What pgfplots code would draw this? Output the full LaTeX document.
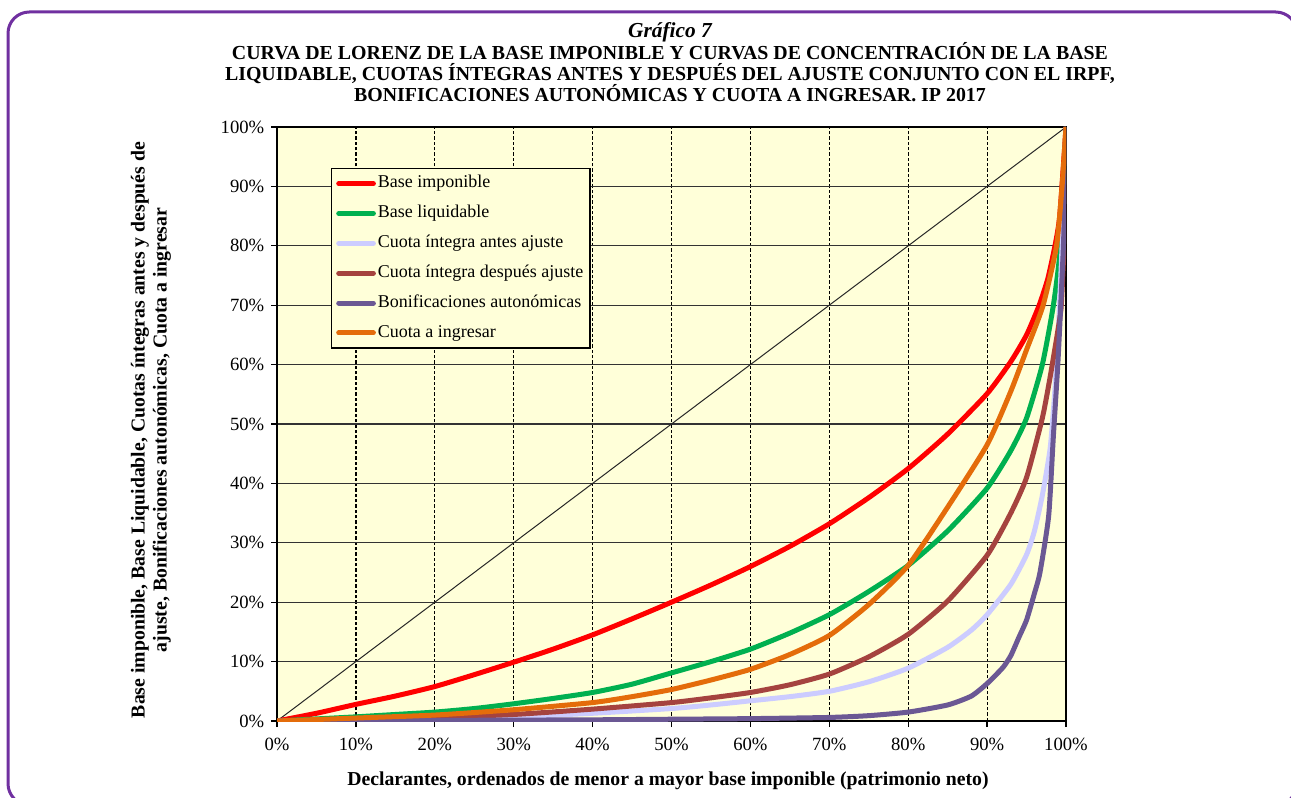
\documentclass[border=0pt]{standalone}
\usepackage{pgfplots}
\pgfplotsset{compat=1.18}
\usepackage{fontspec}
\setmainfont{Liberation Serif}

\definecolor{fondo}{HTML}{FFFFD9}
\definecolor{marco}{HTML}{7030A0}
\definecolor{cRojo}{HTML}{FF0000}
\definecolor{cVerde}{HTML}{00B050}
\definecolor{cLila}{HTML}{CCCCFF}
\definecolor{cMarron}{HTML}{A5433F}
\definecolor{cMorado}{HTML}{6B5894}
\definecolor{cNaranja}{HTML}{E46C0A}

\tikzset{curva/.style={line width=3.75pt, line join=round, smooth, tension=0.35}}

\begin{document}
\begin{tikzpicture}
% 1 px of the reference = 0.75pt
\useasboundingbox (0,0) rectangle (968.25pt,597.75pt);
\begin{scope}
  \clip (0,0) rectangle (968.25pt,597.75pt);
  \draw[marco, line width=2.25pt, rounded corners=16pt] (6pt,588.75pt) rectangle (972.75pt,-6pt);
\end{scope}

% titles (base anchor of a multi-line node = last line)
\node[anchor=base, font=\fontsize{16}{18}\selectfont\bfseries\itshape] at (502.5pt,569.25pt) {Gráfico 7};
\node[anchor=base, align=center, font=\fontsize{14.9}{15.75}\selectfont\bfseries] at (502.5pt,521.25pt)
  {CURVA DE LORENZ DE LA BASE IMPONIBLE Y CURVAS DE CONCENTRACIÓN DE LA BASE\\
   LIQUIDABLE, CUOTAS ÍNTEGRAS ANTES Y DESPUÉS DEL AJUSTE CONJUNTO CON EL IRPF,\\
   BONIFICACIONES AUTONÓMICAS Y CUOTA A INGRESAR. IP 2017};
\node[anchor=base, font=\fontsize{14.8}{16}\selectfont\bfseries] at (501pt,9pt)
  {Declarantes, ordenados de menor a mayor base imponible (patrimonio neto)};
\node[rotate=90, align=center, font=\fontsize{14.8}{16.5}\selectfont\bfseries] at (113.25pt,275.25pt)
  {Base imponible, Base Liquidable, Cuotas íntegras antes y después de\\
   ajuste, Bonificaciones autonómicas, Cuota a ingresar};

\begin{axis}[
  at={(207.75pt,57pt)}, anchor=south west,
  scale only axis, width=591.75pt, height=445.5pt,
  xmin=0, xmax=100, ymin=0, ymax=100,
  axis background/.style={fill=fondo},
  axis line style={black, line width=1.1pt},
  xtick={0,10,...,100}, ytick={0,10,...,100},
  xticklabels={0\%,10\%,20\%,30\%,40\%,50\%,60\%,70\%,80\%,90\%,100\%},
  yticklabels={0\%,10\%,20\%,30\%,40\%,50\%,60\%,70\%,80\%,90\%,100\%},
  ticklabel style={font=\fontsize{14}{16}\selectfont},
  xticklabel style={yshift=-5pt},
  yticklabel style={xshift=-1.5pt},
  tick align=outside, xtick pos=bottom, ytick pos=left,
  major tick length=4.5pt,
  tick style={black, line width=1pt},
  grid=major,
  major x grid style={black, line width=0.9pt, dash pattern=on 2.5pt off 1.5pt},
  major y grid style={black!80, line width=1pt},
  legend style={at={(0.0684,0.931)}, anchor=north west, draw=black, line width=0.9pt,
    fill=fondo, font=\fontsize{13.5}{15}\selectfont, row sep=6.9pt, inner sep=3.5pt,
    nodes={inner sep=1.5pt, text height=9.5pt, text depth=3pt}},
  legend cell align=left,
  legend image code/.code={\draw[#1, sharp plot, line cap=round] (0pt,0pt) -- (26pt,0pt);},
]
\addplot[black!85, line width=0.75pt, forget plot] coordinates {(0,0) (100,100)};

\addplot[cRojo, curva] coordinates {
 (0,0) (5,1.3) (10,2.8) (15,4.2) (20,5.8) (25,7.8) (30,9.9) (35,12.1) (40,14.5)
 (45,17.2) (50,20.0) (55,22.9) (60,26.0) (65,29.4) (70,33.2) (75,37.6) (80,42.5)
 (85,48.3) (90,55.1) (93,60.5) (95,65.0) (96.6,70) (97.7,74.5) (98.6,80) (99.2,85) (100,100)};
\addlegendentry{Base imponible}

\addplot[cVerde, curva] coordinates {
 (0,0) (5,0.35) (10,0.7) (15,1.1) (20,1.5) (25,2.1) (30,2.9) (35,3.8) (40,4.8) (45,6.2)
 (50,8.1) (55,10.0) (60,12.1) (65,14.8) (70,17.9) (75,21.8) (80,26.2) (85,32.0)
 (90,39.2) (93,45.5) (95,51.0) (97,60.0) (98.4,70) (99.3,80) (100,100)};
\addlegendentry{Base liquidable}

\addplot[cLila, curva] coordinates {
 (0,0) (10,0.1) (20,0.3) (30,0.7) (40,1.3) (50,2.1) (55,2.7) (60,3.4) (65,4.1) (70,5.0)
 (75,6.6) (80,8.9) (85,12.4) (88,15.3) (90,17.9) (93,23.0) (95,28.0) (96,32.0)
 (97,38.0) (98,46.0) (98.6,56) (99.1,68) (99.5,80) (100,100)};
\addlegendentry{Cuota íntegra antes ajuste}

\addplot[cMarron, curva] coordinates {
 (0,0) (10,0.2) (20,0.6) (30,1.1) (40,2.0) (50,3.1) (55,3.9) (60,4.8) (65,6.1) (70,7.9)
 (75,10.8) (80,14.6) (85,20.2) (90,27.9) (93,35.0) (95,41.0) (97,51.0) (98,58.0)
 (99,66.0) (99.4,70) (99.8,82) (100,100)};
\addlegendentry{Cuota íntegra después ajuste}

\addplot[cMorado, curva] coordinates {
 (0,0) (10,0.05) (20,0.1) (30,0.15) (40,0.2) (50,0.3) (60,0.4) (70,0.6) (75,0.9)
 (80,1.5) (85,2.7) (88,4.2) (90,6.3) (92,9.0) (93,11.0) (94,14.0) (95,17.0) (96,21.5)
 (96.7,25) (97.8,34.5) (98.4,48) (99,61) (99.7,81) (100,100)};
\addlegendentry{Bonificaciones autonómicas}

\addplot[cNaranja, curva] coordinates {
 (0,0) (10,0.5) (20,1.0) (30,1.9) (40,3.1) (45,4.1) (50,5.3) (55,6.9) (60,8.7) (65,11.2)
 (70,14.4) (75,19.6) (80,26.2) (85,36.0) (90,46.5) (93,55.5) (95,62.5) (97.1,70)
 (98.8,80) (99.5,90) (100,100)};
\addlegendentry{Cuota a ingresar}
\end{axis}
\end{tikzpicture}
\end{document}
